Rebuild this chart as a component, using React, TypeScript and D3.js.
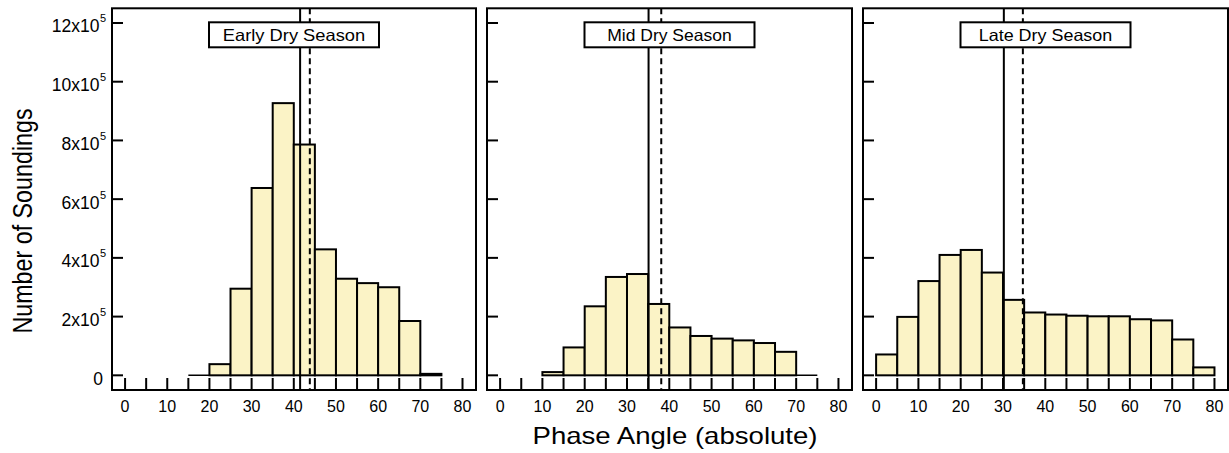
import React from "react";
import * as d3 from "d3";

const seasons = ["Early Dry Season", "Mid Dry Season", "Late Dry Season"];
const binWidth = 5;
const earlyStart = 15;
const earlyCounts = [0, 38000, 295000, 638000, 927000, 786000, 429000, 329000, 314000, 300000, 185000, 5000];
const midStart = 10;
const midCounts = [11000, 95000, 235000, 335000, 345000, 243000, 163000, 134000, 125000, 119000, 110000, 80000, 0];
const lateStart = 0;
const lateCounts = [71000, 199000, 321000, 410000, 427000, 350000, 257000, 214000, 207000, 203000, 201000, 201000, 191000, 187000, 122000, 27000];
const medians = [41.5, 35.1, 30.2];
const means = [43.8, 38.1, 34.7];
const xTickLabels = [0, 10, 20, 30, 40, 50, 60, 70, 80];
const xMinorTicks = [0, 5, 10, 15, 20, 25, 30, 35, 40, 45, 50, 55, 60, 65, 70, 75, 80];
const yTicks = [0, 2, 4, 6, 8, 10, 12];

const starts = [earlyStart, midStart, lateStart];
const counts = [earlyCounts, midCounts, lateCounts];

const panelsX: [number, number][] = [
  [112, 476],
  [487, 852],
  [863, 1228],
];
const TOP = 8.3;
const BOTTOM = 390;
const FONT = "'Liberation Sans', Arial, sans-serif";
const FILL = "#FBF3C6";

export default function App() {
  const y = d3.scaleLinear().domain([-0.5e5, 12.5e5]).range([BOTTOM, TOP]);
  return (
    <svg
      width={1229}
      height={453}
      style={{ position: "absolute", left: 0, top: 0, background: "#fff" }}
      fontFamily={FONT}
    >
      <rect x={0} y={0} width={1229} height={453} fill="#fff" />
      {panelsX.map((px, i) => {
        const x = d3.scaleLinear().domain([-3.1, 83.2]).range(px);
        const s = starts[i];
        const c = counts[i];
        const bins = c.map((v, j) => ({ x0: s + j * binWidth, x1: s + (j + 1) * binWidth, v }));
        const cx = (px[0] + px[1]) / 2;
        return (
          <g key={i}>
            <line
              x1={x(s)}
              x2={x(s + c.length * binWidth)}
              y1={y(0)}
              y2={y(0)}
              stroke="#000"
              strokeWidth={1.5}
            />
            {bins
              .filter((b) => b.v > 0)
              .map((b, j) => (
                <rect
                  key={j}
                  x={x(b.x0)}
                  y={y(b.v)}
                  width={x(b.x1) - x(b.x0)}
                  height={y(0) - y(b.v)}
                  fill={FILL}
                  stroke="#000"
                  strokeWidth={2}
                />
              ))}
            {xMinorTicks.map((t) => (
              <line key={t} x1={x(t)} x2={x(t)} y1={BOTTOM} y2={BOTTOM - 12} stroke="#000" strokeWidth={2} />
            ))}
            {xTickLabels.map((t) => (
              <text key={t} x={x(t)} y={411.5} textAnchor="middle" fontSize={16} fill="#000">
                {t}
              </text>
            ))}
            {yTicks.map((t) => (
              <line key={t} x1={px[0]} x2={px[0] + 11} y1={y(t * 1e5)} y2={y(t * 1e5)} stroke="#000" strokeWidth={2} />
            ))}
            <line x1={x(medians[i])} x2={x(medians[i])} y1={TOP} y2={BOTTOM} stroke="#000" strokeWidth={2} />
            <line
              x1={x(means[i])}
              x2={x(means[i])}
              y1={TOP}
              y2={BOTTOM}
              stroke="#000"
              strokeWidth={2}
              strokeDasharray="6,4"
            />
            <rect x={px[0]} y={TOP} width={px[1] - px[0]} height={BOTTOM - TOP} fill="none" stroke="#000" strokeWidth={2} />
            <rect x={cx - 85} y={22.3} width={170} height={25} fill="#fff" stroke="#000" strokeWidth={2} />
            <text
              x={cx}
              y={41}
              textAnchor="middle"
              fontSize={16.5}
              fill="#000"
              textLength={seasons[i].length * 8.9}
              lengthAdjust="spacingAndGlyphs"
            >
              {seasons[i]}
            </text>
          </g>
        );
      })}
      {yTicks.map((t) => (
        <text key={t} x={t === 0 ? 103 : 99.5} y={y(t * 1e5) + 9.4} textAnchor="end" fontSize={17.5} fill="#000">
          {t === 0 ? "0" : `${t}x10`}
        </text>
      ))}
      {yTicks
        .filter((t) => t > 0)
        .map((t) => (
          <text key={"s" + t} x={100} y={y(t * 1e5) - 0.6} textAnchor="start" fontSize={11} fill="#000">
            5
          </text>
        ))}
      <text
        transform="translate(31.7,221) scale(1.2,1) rotate(-90)"
        textAnchor="middle"
        fontSize={23.3}
        fill="#000"
      >
        Number of Soundings
      </text>
      <text
        x={675}
        y={444}
        textAnchor="middle"
        fontSize={24}
        fill="#000"
        textLength={285}
        lengthAdjust="spacingAndGlyphs"
      >
        Phase Angle (absolute)
      </text>
    </svg>
  );
}
